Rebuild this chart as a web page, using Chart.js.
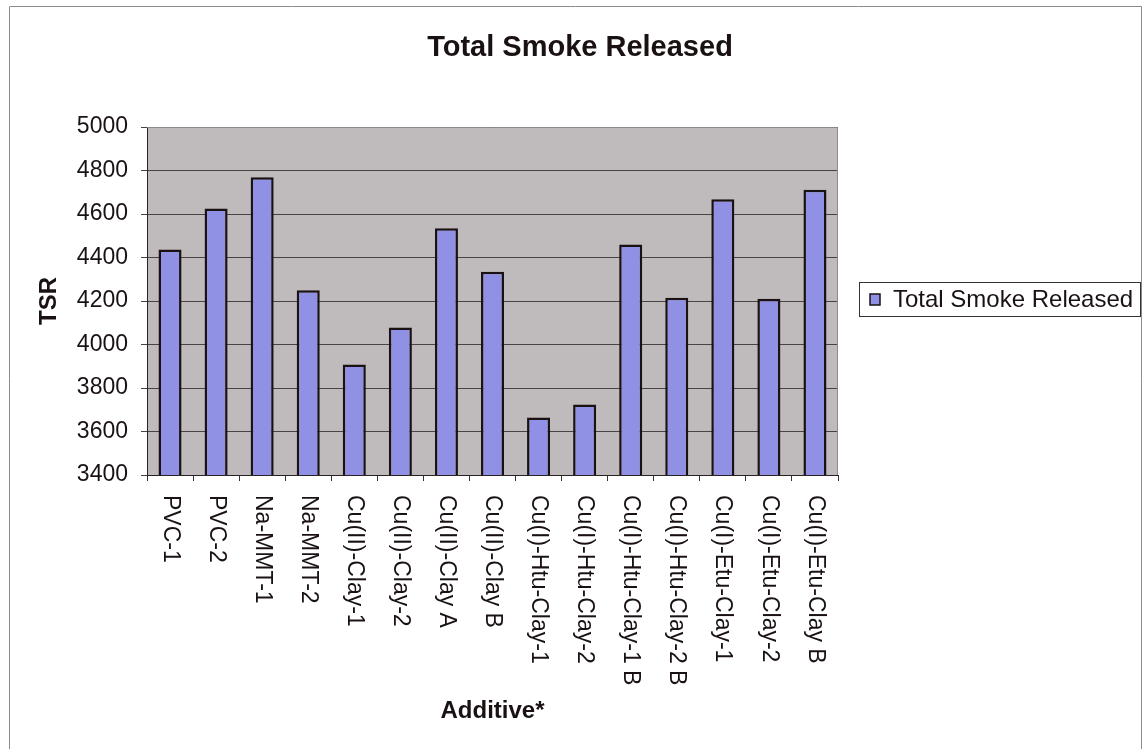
<!DOCTYPE html>
<html>
<head>
<meta charset="utf-8">
<title>Total Smoke Released</title>
<script src="https://cdn.jsdelivr.net/npm/chart.js@4/dist/chart.umd.min.js"></script>
<style>
  html, body { margin: 0; padding: 0; background: #ffffff; }
  #wrap { width: 1144px; height: 749px; position: relative; }
</style>
</head>
<body>
<div id="wrap"><canvas id="tsr" width="1144" height="749"></canvas></div>
<script>
// Additives tested and their total smoke released (TSR)
const additives = [
  'PVC-1', 'PVC-2', 'Na-MMT-1', 'Na-MMT-2',
  'Cu(II)-Clay-1', 'Cu(II)-Clay-2', 'Cu(II)-Clay A', 'Cu(II)-Clay B',
  'Cu(I)-Htu-Clay-1', 'Cu(I)-Htu-Clay-2', 'Cu(I)-Htu-Clay-1 B', 'Cu(I)-Htu-Clay-2 B',
  'Cu(I)-Etu-Clay-1', 'Cu(I)-Etu-Clay-2', 'Cu(I)-Etu-Clay B'
];
const tsrValues = [
  4437, 4625, 4769, 4250,
  3908, 4078, 4535, 4334,
  3664, 3724, 4460, 4215,
  4668, 4210, 4712
];
const yTicks = [3400, 3600, 3800, 4000, 4200, 4400, 4600, 4800, 5000];

const seriesName = 'Total Smoke Released';
const chartTitle = 'Total Smoke Released';
const yTitle = 'TSR';
const xTitle = 'Additive*';

const FONT = '"Liberation Sans", Arial, Helvetica, sans-serif';
const INK = '#1a1212';
const BAR_FILL = '#9090e4';
const PLOT_BG = '#bfbabb';

// Plot background, frame, titles, legend and rotated category labels
const decorations = {
  id: 'decorations',
  beforeDraw(chart) {
    const { ctx, chartArea: a } = chart;
    ctx.save();
    ctx.fillStyle = PLOT_BG;
    ctx.fillRect(a.left, a.top, a.right - a.left, a.bottom - a.top);
    ctx.restore();
  },
  afterDraw(chart) {
    const { ctx, chartArea: a } = chart;
    ctx.save();

    // outer frame
    ctx.strokeStyle = '#8c8c8c';
    ctx.lineWidth = 1;
    ctx.beginPath();
    ctx.moveTo(9.5, 760);
    ctx.lineTo(9.5, 6.5);
    ctx.lineTo(1141.5, 6.5);
    ctx.lineTo(1141.5, 760);
    ctx.stroke();

    // plot frame (top / right)
    ctx.strokeStyle = '#8e8a8c';
    ctx.beginPath();
    ctx.moveTo(a.left, a.top + 0.5);
    ctx.lineTo(a.right - 0.5, a.top + 0.5);
    ctx.lineTo(a.right - 0.5, a.bottom);
    ctx.stroke();

    ctx.fillStyle = INK;

    // chart title
    ctx.font = 'bold 29px ' + FONT;
    ctx.textAlign = 'center';
    ctx.textBaseline = 'middle';
    ctx.fillText(chartTitle, 580, 48);

    // y-axis title
    ctx.save();
    ctx.translate(49, 301);
    ctx.rotate(-Math.PI / 2);
    ctx.font = 'bold 24px ' + FONT;
    ctx.fillText(yTitle, 0, 0);
    ctx.restore();

    // x-axis title
    ctx.font = 'bold 24px ' + FONT;
    ctx.fillText(xTitle, (a.left + a.right) / 2, 711);

    // category labels, reading downward from the axis
    const xs = chart.scales.x;
    ctx.font = '23px ' + FONT;
    ctx.textAlign = 'left';
    ctx.textBaseline = 'middle';
    additives.forEach((label, i) => {
      const px = xs.getPixelForValue(i);
      ctx.save();
      ctx.translate(px, 495);
      ctx.rotate(Math.PI / 2);
      ctx.fillText(label, 0, 0);
      ctx.restore();
    });

    // legend
    ctx.fillStyle = '#ffffff';
    ctx.fillRect(859, 282, 282, 35);
    ctx.strokeStyle = '#3a3232';
    ctx.lineWidth = 1;
    ctx.strokeRect(859.5, 282.5, 281, 34);
    ctx.fillStyle = BAR_FILL;
    ctx.fillRect(870, 294, 10, 11);
    ctx.strokeStyle = INK;
    ctx.lineWidth = 1.5;
    ctx.strokeRect(870, 294, 10, 11);
    ctx.fillStyle = INK;
    ctx.font = '24px ' + FONT;
    ctx.textAlign = 'left';
    ctx.textBaseline = 'middle';
    ctx.fillText(seriesName, 893, 300);

    ctx.restore();
  }
};

new Chart(document.getElementById('tsr'), {
  type: 'bar',
  data: {
    labels: additives,
    datasets: [{
      label: seriesName,
      data: tsrValues,
      backgroundColor: BAR_FILL,
      borderColor: INK,
      borderWidth: 2.5,
      borderSkipped: 'bottom',
      barPercentage: 0.5,
      categoryPercentage: 1.0
    }]
  },
  options: {
    responsive: false,
    animation: false,
    devicePixelRatio: 1,
    layout: { padding: { left: 0, top: 127, right: 306, bottom: 0 } },
    plugins: {
      legend: { display: false },
      title: { display: false },
      tooltip: { enabled: false }
    },
    scales: {
      x: {
        type: 'category',
        offset: true,
        grid: {
          offset: true,
          drawOnChartArea: false,
          drawTicks: true,
          tickLength: 6,
          color: '#3a3232'
        },
        border: { display: true, color: '#2a2222', width: 1 },
        ticks: { display: false },
        afterFit(scale) { scale.height = 749 - 475; }
      },
      y: {
        min: 3400,
        max: 5000,
        afterBuildTicks(scale) { scale.ticks = yTicks.map(v => ({ value: v })); },
        grid: {
          color: '#4a4244',
          lineWidth: 1,
          drawTicks: true,
          tickLength: 6
        },
        border: { display: true, color: '#2a2222', width: 1 },
        ticks: {
          color: INK,
          padding: 13,
          font: { family: FONT, size: 23 },
          callback: (value) => String(value)
        },
        afterFit(scale) { scale.width = 147; }
      }
    }
  },
  plugins: [decorations]
});
</script>
</body>
</html>
